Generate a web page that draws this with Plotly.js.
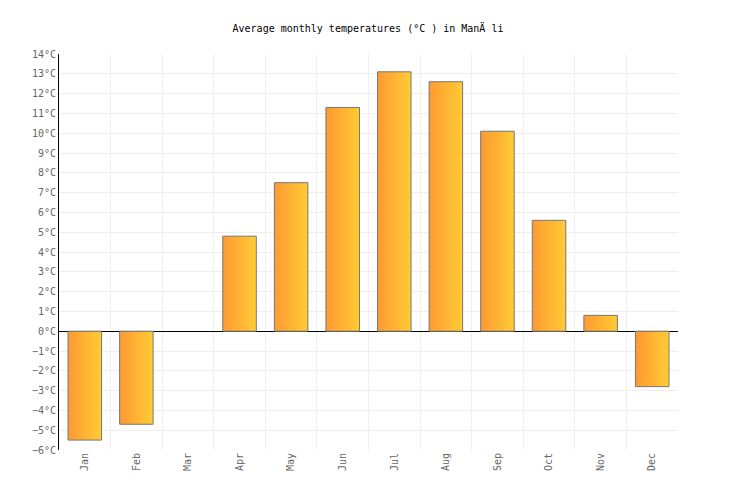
<!DOCTYPE html>
<html>
<head>
<meta charset="utf-8">
<script src="https://cdn.plot.ly/plotly-3.0.1.min.js"></script>
<style>
  body { margin: 0; background: #fff; }
  #chart { width: 736px; height: 500px; }
</style>
</head>
<body>
<div id="chart"></div>
<script>
const months = ["Jan", "Feb", "Mar", "Apr", "May", "Jun", "Jul", "Aug", "Sep", "Oct", "Nov", "Dec"];
const temps = [-5.5, -4.7, 0, 4.8, 7.5, 11.3, 13.1, 12.6, 10.1, 5.6, 0.8, -2.8];
const titleText = "Average monthly temperatures (°C ) in ManÄ li";

const mono = "DejaVu Sans Mono, monospace";

// a zero bar has no visible outline in the original
const outlineWidths = temps.map((v) => (v === 0 ? 0 : 1));

Plotly.newPlot(
  "chart",
  [
    {
      type: "bar",
      x: months,
      y: temps,
      width: 0.65,
      marker: {
        color: "#ffb033",
        line: { color: "#777777", width: outlineWidths },
      },
      hoverinfo: "x+y",
    },
  ],
  {
    width: 736,
    height: 500,
    margin: { l: 59, r: 58, t: 54, b: 50 },
    paper_bgcolor: "#ffffff",
    plot_bgcolor: "#ffffff",
    showlegend: false,
    title: {
      text: titleText,
      font: { family: mono, size: 10, color: "#000000" },
      x: 0.5,
      y: 0.944,
      yanchor: "middle",
    },
    xaxis: {
      type: "category",
      tickson: "boundaries",
      showgrid: true,
      gridcolor: "#eeeeee",
      ticks: "",
      tickangle: -90,
      tickfont: { family: mono, size: 10, color: "#666666" },
      showline: false,
      zeroline: false,
      fixedrange: true,
    },
    yaxis: {
      range: [-6, 14],
      dtick: 1,
      tick0: 0,
      ticksuffix: "°C",
      showgrid: true,
      gridcolor: "#eeeeee",
      zeroline: true,
      zerolinecolor: "#000000",
      zerolinewidth: 1,
      showline: true,
      linecolor: "#000000",
      linewidth: 1,
      ticks: "",
      tickfont: { family: mono, size: 10, color: "#666666" },
      fixedrange: true,
    },
  },
  { displayModeBar: false, staticPlot: true }
).then((gd) => {
  // plotly has no gradient for bars, so swap the fill on the drawn paths
  const svg = gd.querySelector("svg.main-svg");
  const ns = "http://www.w3.org/2000/svg";
  let defs = svg.querySelector("defs");
  if (!defs) {
    defs = document.createElementNS(ns, "defs");
    svg.insertBefore(defs, svg.firstChild);
  }
  const grad = document.createElementNS(ns, "linearGradient");
  grad.setAttribute("id", "barGrad");
  grad.setAttribute("x1", "0");
  grad.setAttribute("y1", "0");
  grad.setAttribute("x2", "1");
  grad.setAttribute("y2", "0");
  [["0%", "#ff9933"], ["100%", "#ffcc33"]].forEach(([off, col]) => {
    const stop = document.createElementNS(ns, "stop");
    stop.setAttribute("offset", off);
    stop.setAttribute("stop-color", col);
    grad.appendChild(stop);
  });
  defs.appendChild(grad);
  gd.querySelectorAll(".bars .point path").forEach((p) => {
    p.style.fill = "url(#barGrad)";
  });
});
</script>
</body>
</html>
